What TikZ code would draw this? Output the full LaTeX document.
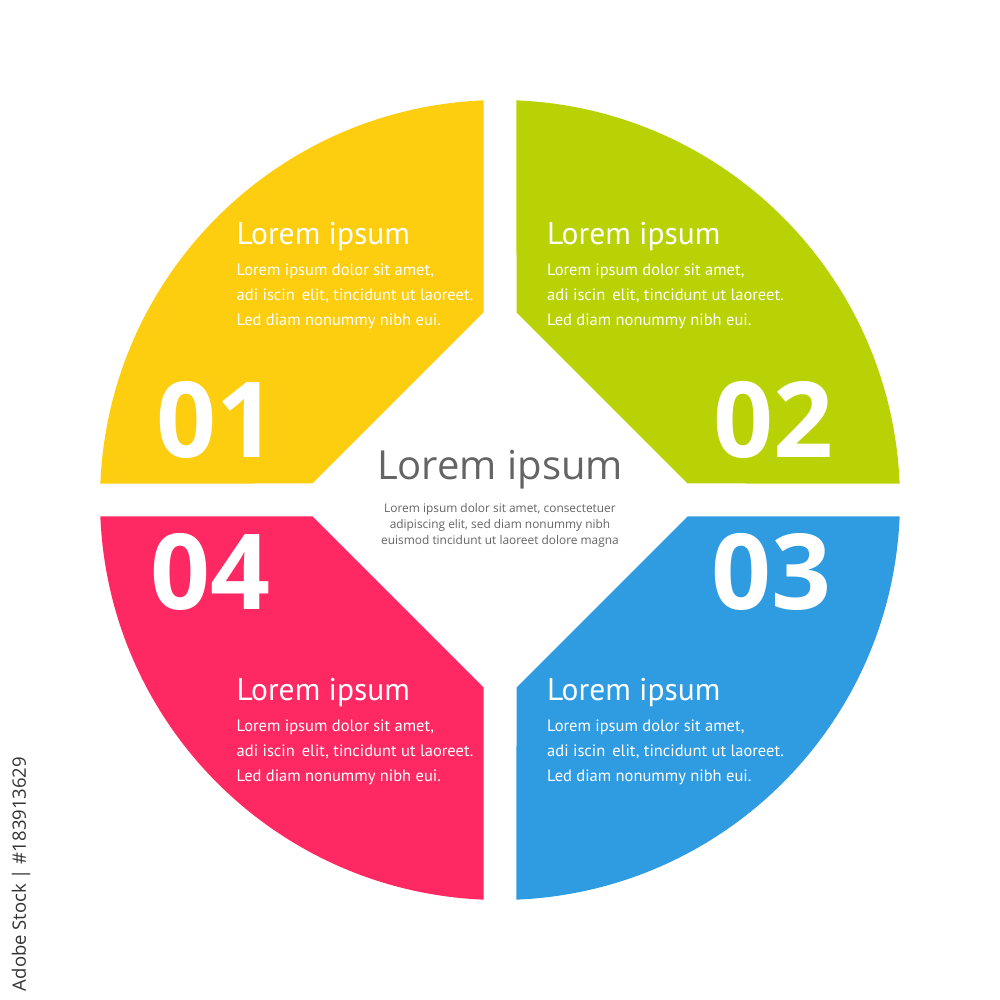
\documentclass[tikz,border=0pt]{standalone}
\usepackage{fontspec}
\setmainfont{Open Sans}
\newfontfamily\quadfont{PT Sans}
\usetikzlibrary{positioning}

\definecolor{qyellow}{RGB}{253,205,15}
\definecolor{qgreen}{RGB}{185,210,5}
\definecolor{qblue}{RGB}{47,155,225}
\definecolor{qpink}{RGB}{254,40,98}
\definecolor{centergray}{RGB}{100,100,100}

\tikzset{
  heading/.style={text=white, inner sep=0pt, font=\quadfont\fontsize{31.5}{31}\selectfont},
  bodytext/.style={text=white, inner sep=0pt, align=left, font=\quadfont\fontsize{16.5}{25}\selectfont},
  number/.style={text=white, inner sep=0pt, font=\bfseries\fontsize{105}{105}\selectfont},
}

\begin{document}
\begin{tikzpicture}[x=1pt, y=1pt]

\useasboundingbox (-500,-500) rectangle (500,500);

% Quadrants - one shape turned four times
\foreach \ang/\col in {0/qyellow, -90/qgreen, -180/qblue, -270/qpink} {
  \fill[\col, rotate=\ang] (-16.5,187.5) -- (92.364:400)
    arc[start angle=92.364, end angle=177.636, radius=400]
    -- (-187.5,16.5) -- cycle;
}

% Quadrant texts (base anchor sits on the last body line)
\foreach \name/\x/\y in {one/-263.5/255, two/47/255, three/47/-200, four/-263.5/-200} {
  \node[heading, anchor=base west] (head\name) at (\x,\y) {Lorem ipsum};
  \node[bodytext, anchor=base west] (body\name) at (\x,\y-81)
    {Lorem ipsum dolor sit amet,\\adi iscin\hspace{7pt}elit, tincidunt ut laoreet.\\Led diam nonummy nibh eui.};
}

% Numbers
\node[number, anchor=base west] (numone) at (-344,42) {01};
\node[number, anchor=base east] (numtwo) at (334,42) {02};
\node[number, anchor=base east] (numthree) at (332,-110) {03};
\node[number, anchor=base west] (numfour) at (-350,-110) {04};

% Center
\node[text=centergray, inner sep=0pt, anchor=base, font=\fontsize{40}{40}\selectfont] (title) at (0,20) {Lorem ipsum};
\node[text=centergray, inner sep=0pt, anchor=base, align=center, font=\fontsize{11.9}{16}\selectfont] (centerbody) at (0,-45)
  {Lorem ipsum dolor sit amet, consectetuer\\adipiscing elit, sed diam nonummy nibh\\euismod tincidunt ut laoreet dolore magna};

% Side label
\node[text=black!80, inner sep=0pt, rotate=90, font=\fontsize{18.5}{18.5}\selectfont] (stock) at (-479,-374) {Adobe Stock | \#183913629};

\end{tikzpicture}
\end{document}
